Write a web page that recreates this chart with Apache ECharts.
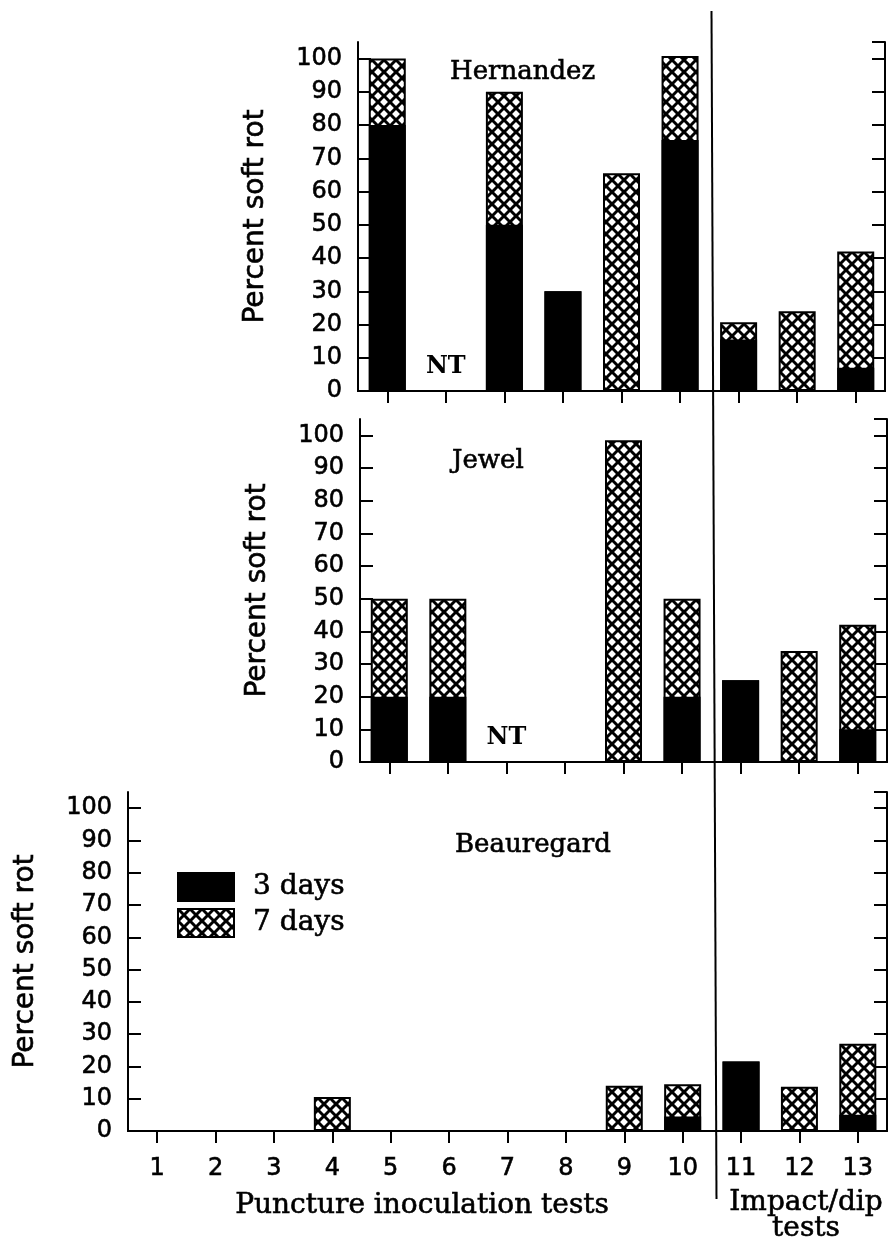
<!DOCTYPE html>
<html><head><meta charset="utf-8">
<script src="https://cdn.jsdelivr.net/npm/echarts@6/dist/echarts.min.js"></script>
<style>html,body{margin:0;padding:0;background:#fff}#c{width:889px;height:1239px}</style>
</head><body><div id="c"></div>
<script>
// ---- data ----
const catsTop = ['5','6','7','8','9','10','11','12','13'];
const catsBottom = ['1','2','3','4','5','6','7','8','9','10','11','12','13'];
const seriesNames = ['3 days', '7 days'];

const hernandez3 = [80, null, 50, 30, 0, 75.5, 15.5, 0, 7];
const hernandez7 = [100, null, 90, 30, 65.5, 100.8, 20.7, 24, 42];
const hernandezNT = ['6'];

const jewel3 = [20, 20, null, 0, 0, 20, 25, 0, 10];
const jewel7 = [50, 50, null, 0, 98.5, 50, 25, 34, 42];
const jewelNT = ['7'];

const beau3 = [0, 0, 0, 0, 0, 0, 0, 0, 0, 4.5, 21.5, 0, 5];
const beau7 = [0, 0, 0, 10.5, 0, 0, 0, 0, 14, 14.5, 21.5, 13.7, 27];

const yMin = 0, yMax = 105, yStep = 10;

// ---- styles ----
function makeHatch() {
  const s = 12, c = document.createElement('canvas');
  c.width = s; c.height = s;
  const g = c.getContext('2d');
  g.fillStyle = '#fff'; g.fillRect(0, 0, s, s);
  g.strokeStyle = '#000'; g.lineWidth = 3;
  for (let k = -1; k <= 1; k++) {
    g.beginPath(); g.moveTo(k * s - 2, -2); g.lineTo(k * s + s + 2, s + 2); g.stroke();
    g.beginPath(); g.moveTo(k * s + s + 2, -2); g.lineTo(k * s - 2, s + 2); g.stroke();
  }
  return c;
}
const hatch = { image: makeHatch(), repeat: 'repeat' };
const SANS = 'DejaVu Sans', SERIF = 'DejaVu Serif';
const lineS = { color: '#000', width: 2 };
const bold = { textBorderColor: '#000', textBorderWidth: 0.6 };

const grids = [
  { left: 358, top: 42, width: 527, height: 349 },
  { left: 360, top: 419, width: 527, height: 343 },
  { left: 128, top: 792, width: 759, height: 339 }
];

const xAxes = [], yAxes = [], series = [];
function addPanel(g, cats, d3, d7, nt, showXLabels) {
  xAxes.push({
    type: 'category', gridIndex: g, data: cats, position: 'bottom',
    axisLine: { show: true, lineStyle: lineS },
    axisTick: { show: true, alignWithLabel: true, inside: false, length: 12, lineStyle: lineS },
    axisLabel: Object.assign({ show: showXLabels, color: '#000', fontFamily: SANS, fontSize: 24, margin: 26 }, bold),
    splitLine: { show: false }
  });
  xAxes.push({
    type: 'category', gridIndex: g, data: cats, position: 'top',
    axisLine: { show: true, lineStyle: lineS },
    axisTick: { show: true, alignWithLabel: true, inside: true, length: 12, lineStyle: lineS },
    axisLabel: { show: false }, splitLine: { show: false }
  });
  yAxes.push({
    type: 'value', gridIndex: g, position: 'left', min: yMin, max: yMax, interval: yStep,
    axisLine: { show: true, lineStyle: lineS },
    axisTick: { show: true, inside: true, length: 13, lineStyle: lineS },
    axisLabel: Object.assign({ color: '#000', fontFamily: SANS, fontSize: 24, margin: 16, showMaxLabel: false,
      formatter: v => (v > 100 ? '' : String(v)) }, bold),
    splitLine: { show: false },
    name: 'Percent soft rot', nameLocation: 'middle', nameGap: 88, nameRotate: 90,
    nameTextStyle: Object.assign({ color: '#000', fontFamily: SANS, fontSize: 28 }, bold)
  });
  yAxes.push({
    type: 'value', gridIndex: g, position: 'right', min: yMin, max: yMax, interval: yStep,
    axisLine: { show: true, lineStyle: lineS },
    axisTick: { show: true, inside: true, length: 13, lineStyle: lineS },
    axisLabel: { show: false }, splitLine: { show: false }
  });
  const xi = g * 2, yi = g * 2;
  series.push({
    name: seriesNames[1], type: 'bar', xAxisIndex: xi, yAxisIndex: yi, data: d7,
    barWidth: 37, barGap: '-100%', silent: true,
    itemStyle: { color: hatch, borderColor: '#000', borderWidth: 2 }
  });
  const s3 = {
    name: seriesNames[0], type: 'bar', xAxisIndex: xi, yAxisIndex: yi, data: d3,
    barWidth: 37, barGap: '-100%', silent: true,
    itemStyle: { color: '#000', borderColor: '#000', borderWidth: 2 }
  };
  if (nt && nt.length) {
    s3.markPoint = {
      symbol: 'rect', symbolSize: 1, silent: true,
      itemStyle: { color: 'rgba(0,0,0,0)' },
      label: { show: true, formatter: 'NT', color: '#000', fontFamily: SERIF, fontSize: 24, fontWeight: 'bold', offset: [0, -24] },
      data: nt.map(c => ({ coord: [c, 0] }))
    };
  }
  series.push(s3);
}
addPanel(0, catsTop, hernandez3, hernandez7, hernandezNT, false);
addPanel(1, catsTop, jewel3, jewel7, jewelNT, false);
addPanel(2, catsBottom, beau3, beau7, [], true);

function txt(t, x, y, align, size) {
  return { type: 'text', x: x, y: y, z: 50, silent: true,
    style: { text: t, font: size + 'px "' + SERIF + '"', fill: '#000', stroke: '#000', lineWidth: 0.6,
      textAlign: align, align: align, textVerticalAlign: 'middle', verticalAlign: 'middle' } };
}

const chart = echarts.init(document.getElementById('c'), null, { renderer: 'canvas' });
chart.setOption({
  animation: false,
  backgroundColor: '#fff',
  grid: grids,
  xAxis: xAxes,
  yAxis: yAxes,
  series: series,
  legend: {
    data: seriesNames, orient: 'vertical', left: 177, top: 872, padding: 0,
    itemWidth: 56, itemHeight: 28, itemGap: 6, icon: 'rect', selectedMode: false,
    textStyle: Object.assign({ color: '#000', fontFamily: SERIF, fontSize: 28, padding: [0, 0, 0, 14] }, bold)
  },
  graphic: [
    txt('Hernandez', 450, 72, 'left', 26),
    txt('Jewel', 452, 461, 'left', 26),
    txt('Beauregard', 455, 845, 'left', 26),
    txt('Puncture inoculation tests', 422, 1206, 'center', 28),
    txt('Impact/dip', 806, 1203, 'center', 28),
    txt('tests', 806, 1229, 'center', 28),
    { type: 'line', z: 60, silent: true, shape: { x1: 711.5, y1: 11, x2: 716.5, y2: 1199 },
      style: { stroke: '#000', lineWidth: 2 } }
  ]
});
</script></body></html>
